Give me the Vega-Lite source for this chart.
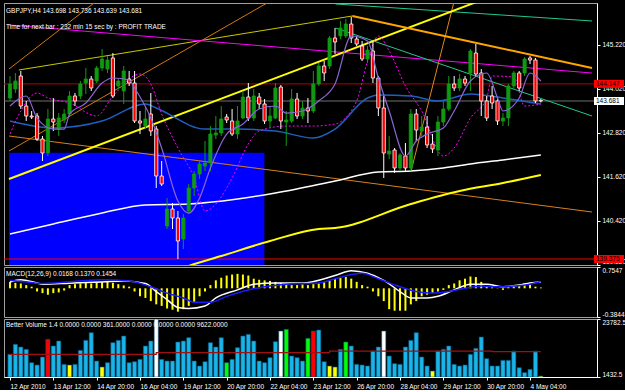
{
"$schema": "https://vega.github.io/schema/vega-lite/v6.json",
"background": "#000000",
"padding": {"left": 3, "top": 2, "right": 0, "bottom": 0},
"spacing": 2,
"bounds": "flush",
"config": {
  "view": {"stroke": "#a0a0a0", "strokeWidth": 1},
  "font": "Liberation Sans",
  "axis": {"labelColor": "#ffffff", "labelFont": "Liberation Sans", "labelFontSize": 6.5, "tickColor": "#ffffff", "domainColor": "#ffffff", "tickSize": 3, "grid": false, "labelPadding": 2}
},
"datasets": {
  "candles": [
    {"i":0,"o":143.762,"h":144.362,"l":143.681,"c":144.144},
    {"i":1,"o":144.008,"h":144.444,"l":143.899,"c":144.226},
    {"i":2,"o":144.362,"h":144.498,"l":143.463,"c":143.544},
    {"i":3,"o":143.544,"h":143.681,"l":143.136,"c":143.272},
    {"i":4,"o":143.272,"h":143.408,"l":143.190,"c":143.245},
    {"i":5,"o":143.272,"h":143.354,"l":142.591,"c":142.645},
    {"i":6,"o":142.645,"h":142.727,"l":142.046,"c":142.264},
    {"i":7,"o":142.264,"h":143.463,"l":142.182,"c":143.190},
    {"i":8,"o":143.190,"h":143.762,"l":142.863,"c":143.108},
    {"i":9,"o":142.918,"h":143.354,"l":142.727,"c":143.217},
    {"i":10,"o":143.163,"h":143.463,"l":143.081,"c":143.326},
    {"i":11,"o":143.326,"h":143.953,"l":143.272,"c":143.817},
    {"i":12,"o":143.817,"h":143.899,"l":143.544,"c":143.681},
    {"i":13,"o":143.817,"h":144.226,"l":143.735,"c":144.144},
    {"i":14,"o":144.171,"h":144.580,"l":143.871,"c":144.280},
    {"i":15,"o":144.280,"h":144.362,"l":143.953,"c":144.035},
    {"i":16,"o":144.226,"h":144.634,"l":144.171,"c":144.580},
    {"i":17,"o":144.580,"h":145.097,"l":144.498,"c":144.825},
    {"i":18,"o":144.553,"h":144.907,"l":144.444,"c":144.798},
    {"i":19,"o":144.852,"h":144.988,"l":143.762,"c":143.817},
    {"i":20,"o":144.089,"h":144.280,"l":144.008,"c":144.226},
    {"i":21,"o":143.953,"h":144.634,"l":143.599,"c":144.498},
    {"i":22,"o":144.280,"h":144.498,"l":144.089,"c":144.171},
    {"i":23,"o":144.171,"h":144.498,"l":143.081,"c":143.136},
    {"i":24,"o":143.136,"h":143.408,"l":142.781,"c":143.081},
    {"i":25,"o":142.999,"h":143.544,"l":142.918,"c":143.190},
    {"i":26,"o":143.326,"h":143.899,"l":142.727,"c":142.863},
    {"i":27,"o":142.918,"h":142.999,"l":141.310,"c":141.637},
    {"i":28,"o":141.637,"h":142.046,"l":141.365,"c":141.419},
    {"i":29,"o":140.275,"h":141.038,"l":140.193,"c":140.738},
    {"i":30,"o":140.738,"h":140.901,"l":140.193,"c":140.493},
    {"i":31,"o":140.493,"h":140.683,"l":139.375,"c":139.866},
    {"i":32,"o":139.920,"h":140.602,"l":139.648,"c":140.493},
    {"i":33,"o":140.683,"h":141.419,"l":140.602,"c":141.310},
    {"i":34,"o":141.310,"h":141.773,"l":141.092,"c":141.692},
    {"i":35,"o":141.692,"h":142.046,"l":141.555,"c":141.964},
    {"i":36,"o":141.910,"h":142.591,"l":141.773,"c":141.991},
    {"i":37,"o":141.991,"h":142.999,"l":141.773,"c":142.781},
    {"i":38,"o":142.754,"h":143.272,"l":142.645,"c":142.809},
    {"i":39,"o":142.809,"h":143.544,"l":142.727,"c":143.190},
    {"i":40,"o":143.245,"h":143.326,"l":143.081,"c":143.163},
    {"i":41,"o":143.136,"h":143.463,"l":142.727,"c":142.781},
    {"i":42,"o":142.781,"h":143.544,"l":142.645,"c":143.136},
    {"i":43,"o":143.217,"h":143.953,"l":143.190,"c":143.790},
    {"i":44,"o":143.790,"h":144.171,"l":143.136,"c":143.217},
    {"i":45,"o":143.217,"h":144.008,"l":143.136,"c":143.817},
    {"i":46,"o":143.790,"h":143.899,"l":143.463,"c":143.599},
    {"i":47,"o":143.599,"h":143.735,"l":143.054,"c":143.136},
    {"i":48,"o":143.136,"h":143.544,"l":142.945,"c":143.272},
    {"i":49,"o":143.217,"h":144.171,"l":143.190,"c":144.035},
    {"i":50,"o":144.062,"h":144.117,"l":142.918,"c":143.136},
    {"i":51,"o":143.108,"h":143.408,"l":142.455,"c":143.163},
    {"i":52,"o":143.136,"h":144.008,"l":143.081,"c":143.735},
    {"i":53,"o":143.735,"h":143.899,"l":143.190,"c":143.272},
    {"i":54,"o":143.272,"h":143.681,"l":143.190,"c":143.490},
    {"i":55,"o":143.490,"h":143.762,"l":143.081,"c":143.408},
    {"i":56,"o":143.408,"h":144.498,"l":143.354,"c":144.144},
    {"i":57,"o":144.144,"h":144.716,"l":144.089,"c":144.634},
    {"i":58,"o":144.634,"h":144.771,"l":144.226,"c":144.444},
    {"i":59,"o":144.634,"h":145.452,"l":144.553,"c":145.397},
    {"i":60,"o":145.397,"h":145.670,"l":144.961,"c":145.288},
    {"i":61,"o":145.452,"h":145.861,"l":145.370,"c":145.670},
    {"i":62,"o":145.452,"h":145.915,"l":145.397,"c":145.779},
    {"i":63,"o":145.779,"h":145.970,"l":145.261,"c":145.397},
    {"i":64,"o":145.370,"h":145.452,"l":145.179,"c":145.234},
    {"i":65,"o":145.179,"h":145.316,"l":144.771,"c":144.825},
    {"i":66,"o":144.825,"h":145.179,"l":144.716,"c":145.070},
    {"i":67,"o":145.043,"h":145.316,"l":144.171,"c":144.307},
    {"i":68,"o":144.307,"h":144.362,"l":143.272,"c":143.490},
    {"i":69,"o":143.490,"h":143.817,"l":141.583,"c":142.264},
    {"i":70,"o":142.237,"h":142.727,"l":142.100,"c":142.318},
    {"i":71,"o":142.345,"h":142.400,"l":141.719,"c":141.855},
    {"i":72,"o":141.855,"h":142.264,"l":141.773,"c":142.209},
    {"i":73,"o":142.182,"h":142.536,"l":141.773,"c":141.855},
    {"i":74,"o":141.855,"h":143.463,"l":141.773,"c":143.326},
    {"i":75,"o":143.326,"h":143.463,"l":142.591,"c":142.890},
    {"i":76,"o":142.863,"h":143.272,"l":142.727,"c":142.972},
    {"i":77,"o":142.972,"h":143.272,"l":142.400,"c":142.482},
    {"i":78,"o":142.509,"h":142.781,"l":142.264,"c":142.373},
    {"i":79,"o":142.345,"h":143.272,"l":142.182,"c":143.108},
    {"i":80,"o":143.108,"h":143.681,"l":142.999,"c":143.463},
    {"i":81,"o":143.463,"h":144.362,"l":143.408,"c":144.144},
    {"i":82,"o":144.144,"h":144.362,"l":143.953,"c":144.035},
    {"i":83,"o":144.035,"h":144.416,"l":143.953,"c":144.280},
    {"i":84,"o":144.280,"h":144.362,"l":144.089,"c":144.171},
    {"i":85,"o":144.444,"h":145.097,"l":143.953,"c":145.043},
    {"i":86,"o":144.988,"h":145.234,"l":144.335,"c":144.416},
    {"i":87,"o":144.444,"h":144.553,"l":143.272,"c":143.681},
    {"i":88,"o":143.681,"h":143.817,"l":143.136,"c":143.217},
    {"i":89,"o":143.817,"h":144.089,"l":143.463,"c":143.626},
    {"i":90,"o":143.681,"h":143.762,"l":143.027,"c":143.136},
    {"i":91,"o":143.136,"h":143.354,"l":142.999,"c":143.217},
    {"i":92,"o":143.217,"h":144.144,"l":142.999,"c":144.089},
    {"i":93,"o":144.089,"h":144.498,"l":144.008,"c":144.444},
    {"i":94,"o":144.444,"h":144.498,"l":143.953,"c":144.035},
    {"i":95,"o":144.444,"h":144.879,"l":144.362,"c":144.825},
    {"i":96,"o":144.852,"h":144.907,"l":144.689,"c":144.798},
    {"i":97,"o":144.798,"h":144.852,"l":143.626,"c":143.681},
    {"i":98,"o":143.698,"h":143.736,"l":143.639,"c":143.681}
  ],
  "ma": [
    {"name":"fast","i":0,"p":143.544},{"name":"fast","i":3,"p":143.817},{"name":"fast","i":5,"p":143.217},{"name":"fast","i":8,"p":142.917},{"name":"fast","i":10,"p":142.917},{"name":"fast","i":11,"p":143.326},{"name":"fast","i":14,"p":143.626},{"name":"fast","i":17,"p":144.171},{"name":"fast","i":19,"p":144.307},{"name":"fast","i":22,"p":144.253},{"name":"fast","i":23,"p":144.035},{"name":"fast","i":26,"p":143.217},{"name":"fast","i":28,"p":142.400},{"name":"fast","i":31,"p":140.956},{"name":"fast","i":33,"p":140.628},{"name":"fast","i":35,"p":141.037},{"name":"fast","i":37,"p":141.855},{"name":"fast","i":40,"p":142.781},{"name":"fast","i":43,"p":143.054},{"name":"fast","i":46,"p":143.462},{"name":"fast","i":49,"p":143.544},{"name":"fast","i":51,"p":143.353},{"name":"fast","i":54,"p":143.408},{"name":"fast","i":57,"p":143.681},{"name":"fast","i":60,"p":144.144},{"name":"fast","i":63,"p":145.452},{"name":"fast","i":66,"p":145.316},{"name":"fast","i":68,"p":144.307},{"name":"fast","i":70,"p":143.408},{"name":"fast","i":73,"p":142.182},{"name":"fast","i":75,"p":142.591},{"name":"fast","i":77,"p":142.781},{"name":"fast","i":80,"p":142.945},{"name":"fast","i":82,"p":143.408},{"name":"fast","i":85,"p":144.226},{"name":"fast","i":88,"p":144.443},{"name":"fast","i":90,"p":143.762},{"name":"fast","i":91,"p":143.408},{"name":"fast","i":94,"p":143.762},{"name":"fast","i":96,"p":144.443},{"name":"fast","i":98,"p":144.226},
    {"name":"mid","i":0,"p":143.136},{"name":"mid","i":8,"p":142.945},{"name":"mid","i":17,"p":143.136},{"name":"mid","i":25,"p":143.598},{"name":"mid","i":27,"p":143.490},{"name":"mid","i":36,"p":142.917},{"name":"mid","i":42,"p":142.917},{"name":"mid","i":49,"p":142.863},{"name":"mid","i":56,"p":142.672},{"name":"mid","i":60,"p":142.917},{"name":"mid","i":66,"p":143.762},{"name":"mid","i":68,"p":143.844},{"name":"mid","i":74,"p":143.817},{"name":"mid","i":79,"p":143.681},{"name":"mid","i":85,"p":143.871},{"name":"mid","i":91,"p":143.762},{"name":"mid","i":98,"p":143.598},
    {"name":"white","i":0,"p":140.056},{"name":"white","i":8,"p":140.329},{"name":"white","i":17,"p":140.629},{"name":"white","i":25,"p":140.847},{"name":"white","i":33,"p":140.874},{"name":"white","i":42,"p":141.010},{"name":"white","i":49,"p":141.174},{"name":"white","i":60,"p":141.501},{"name":"white","i":68,"p":141.746},{"name":"white","i":74,"p":141.773},{"name":"white","i":80,"p":141.855},{"name":"white","i":85,"p":141.964},{"name":"white","i":91,"p":142.073},{"name":"white","i":98,"p":142.209},
    {"name":"yellow","i":32,"p":139.130},{"name":"yellow","i":33,"p":139.185},{"name":"yellow","i":39,"p":139.457},{"name":"yellow","i":48,"p":139.866},{"name":"yellow","i":57,"p":140.193},{"name":"yellow","i":60,"p":140.220},{"name":"yellow","i":74,"p":140.874},{"name":"yellow","i":83,"p":141.228},{"name":"yellow","i":91,"p":141.446},{"name":"yellow","i":98,"p":141.664},
    {"name":"dot","i":0,"p":142.781},{"name":"dot","i":2,"p":143.408},{"name":"dot","i":5,"p":143.898},{"name":"dot","i":7,"p":143.762},{"name":"dot","i":11,"p":143.626},{"name":"dot","i":16,"p":143.272},{"name":"dot","i":19,"p":143.817},{"name":"dot","i":24,"p":144.416},{"name":"dot","i":26,"p":144.144},{"name":"dot","i":28,"p":143.326},{"name":"dot","i":31,"p":142.400},{"name":"dot","i":34,"p":141.582},{"name":"dot","i":36,"p":140.683},{"name":"dot","i":38,"p":140.874},{"name":"dot","i":41,"p":141.582},{"name":"dot","i":44,"p":142.509},{"name":"dot","i":46,"p":142.863},{"name":"dot","i":51,"p":142.999},{"name":"dot","i":56,"p":142.999},{"name":"dot","i":60,"p":143.054},{"name":"dot","i":64,"p":143.681},{"name":"dot","i":66,"p":144.770},{"name":"dot","i":68,"p":145.452},{"name":"dot","i":70,"p":145.043},{"name":"dot","i":73,"p":144.089},{"name":"dot","i":76,"p":143.408},{"name":"dot","i":80,"p":142.182},{"name":"dot","i":82,"p":142.400},{"name":"dot","i":85,"p":143.217},{"name":"dot","i":88,"p":143.762},{"name":"dot","i":89,"p":144.362},{"name":"dot","i":93,"p":144.334},{"name":"dot","i":95,"p":143.544},{"name":"dot","i":98,"p":143.598}
  ],
  "trend": [
    {"name":"yel2","i":1.63,"p":144.525},{"name":"yel2","i":63.2,"p":145.997},
    {"name":"orA","i":-0.18,"p":144.553},{"name":"orA","i":16.0,"p":146.406},
    {"name":"orB","i":-0.18,"p":142.318},{"name":"orB","i":48.1,"p":146.406},
    {"name":"orS","i":74.05,"p":141.773},{"name":"orS","i":82.0,"p":146.406},
    {"name":"orL","i":-0.18,"p":142.727},{"name":"orL","i":107.44,"p":140.656},
    {"name":"mag","i":-0.18,"p":145.752},{"name":"mag","i":107.44,"p":144.443},
    {"name":"grT","i":60.1,"p":146.324},{"name":"grT","i":107.44,"p":145.861},
    {"name":"grL","i":60.1,"p":145.670},{"name":"grL","i":107.44,"p":143.272},
    {"name":"yel1","i":-0.18,"p":141.555},{"name":"yel1","i":86.6,"p":146.406},
    {"name":"orT","i":63.2,"p":145.997},{"name":"orT","i":107.44,"p":144.580}
  ],
  "hl": [{"name":"hi","p":144.147},{"name":"lo","p":139.375},{"name":"bid","p":143.681}],
  "box": [{"i1":-0.18,"i2":46.96,"p1":142.272,"p2":139.212}],
  "plab": [{"p":144.147,"k":"r"},{"p":143.681,"k":"w"},{"p":139.375,"k":"r"}],
  "macd": [
    {"i":0,"v":0.137},{"i":1,"v":0.118},{"i":2,"v":0.104},{"i":3,"v":0.069},{"i":4,"v":0.035},{"i":5,"v":-0.069},{"i":6,"v":-0.104},{"i":7,"v":-0.139},{"i":8,"v":-0.104},{"i":9,"v":-0.089},
    {"i":10,"v":-0.048},{"i":11,"v":0.069},{"i":12,"v":0.089},{"i":13,"v":0.104},{"i":14,"v":0.118},{"i":15,"v":0.104},{"i":16,"v":0.118},{"i":17,"v":0.131},{"i":18,"v":0.137},{"i":19,"v":0.118},
    {"i":20,"v":0.089},{"i":21,"v":0.062},{"i":22,"v":0.035},{"i":23,"v":-0.069},{"i":24,"v":-0.172},{"i":25,"v":-0.208},{"i":26,"v":-0.276},{"i":27,"v":-0.347},{"i":28,"v":-0.380},{"i":29,"v":-0.436},
    {"i":30,"v":-0.463},{"i":31,"v":-0.505},{"i":32,"v":-0.451},{"i":33,"v":-0.380},{"i":34,"v":-0.297},{"i":35,"v":-0.172},{"i":36,"v":-0.069},{"i":37,"v":0.069},{"i":38,"v":0.172},{"i":39,"v":0.228},
    {"i":40,"v":0.276},{"i":41,"v":0.297},{"i":42,"v":0.312},{"i":43,"v":0.297},{"i":44,"v":0.276},{"i":45,"v":0.208},{"i":46,"v":0.187},{"i":47,"v":0.172},{"i":48,"v":0.160},{"i":49,"v":0.139},
    {"i":50,"v":0.118},{"i":51,"v":0.089},{"i":52,"v":0.069},{"i":53,"v":0.069},{"i":54,"v":0.083},{"i":55,"v":0.069},{"i":56,"v":0.089},{"i":57,"v":0.104},{"i":58,"v":0.139},{"i":59,"v":0.172},
    {"i":60,"v":0.208},{"i":61,"v":0.228},{"i":62,"v":0.243},{"i":63,"v":0.208},{"i":64,"v":0.139},{"i":65,"v":0.069},{"i":66,"v":0.035},{"i":67,"v":-0.069},{"i":68,"v":-0.172},{"i":69,"v":-0.276},
    {"i":70,"v":-0.451},{"i":71,"v":-0.484},{"i":72,"v":-0.484},{"i":73,"v":-0.484},{"i":74,"v":-0.347},{"i":75,"v":-0.276},{"i":76,"v":-0.172},{"i":77,"v":-0.139},{"i":78,"v":-0.104},{"i":79,"v":-0.069},
    {"i":80,"v":-0.035},{"i":81,"v":0.069},{"i":82,"v":0.104},{"i":83,"v":0.172},{"i":84,"v":0.208},{"i":85,"v":0.255},{"i":86,"v":0.243},{"i":87,"v":0.139},{"i":88,"v":0.048},{"i":89,"v":0.021},
    {"i":90,"v":0.006},{"i":91,"v":-0.035},{"i":92,"v":0.021},{"i":93,"v":0.035},{"i":94,"v":0.069},{"i":95,"v":0.104},{"i":96,"v":0.089},{"i":97,"v":0.035},{"i":98,"v":0.0168}
  ],
  "macdl": [
    {"name":"main","i":0,"v":0.137},{"name":"main","i":2,"v":0.187},{"name":"main","i":5,"v":0.116},{"name":"main","i":6,"v":0.089},{"name":"main","i":11,"v":0.110},{"name":"main","i":17,"v":0.137},{"name":"main","i":21,"v":0.158},{"name":"main","i":25,"v":0.104},{"name":"main","i":27,"v":-0.071},{"name":"main","i":29,"v":-0.243},{"name":"main","i":31,"v":-0.415},{"name":"main","i":33,"v":-0.436},{"name":"main","i":36,"v":-0.382},{"name":"main","i":38,"v":-0.208},{"name":"main","i":42,"v":-0.035},{"name":"main","i":45,"v":0.089},{"name":"main","i":49,"v":0.116},{"name":"main","i":54,"v":0.116},{"name":"main","i":60,"v":0.276},{"name":"main","i":63,"v":0.380},{"name":"main","i":66,"v":0.324},{"name":"main","i":69,"v":0.172},{"name":"main","i":72,"v":-0.071},{"name":"main","i":74,"v":-0.208},{"name":"main","i":77,"v":-0.208},{"name":"main","i":79,"v":-0.174},{"name":"main","i":82,"v":-0.035},{"name":"main","i":85,"v":0.089},{"name":"main","i":88,"v":0.089},{"name":"main","i":91,"v":0.033},{"name":"main","i":94,"v":0.069},{"name":"main","i":96,"v":0.116},{"name":"main","i":98,"v":0.137},
    {"name":"signal","i":0,"v":0.172},{"name":"signal","i":3,"v":0.137},{"name":"signal","i":6,"v":0.104},{"name":"signal","i":17,"v":0.187},{"name":"signal","i":22,"v":0.158},{"name":"signal","i":26,"v":0.033},{"name":"signal","i":29,"v":-0.104},{"name":"signal","i":32,"v":-0.208},{"name":"signal","i":34,"v":-0.299},{"name":"signal","i":37,"v":-0.299},{"name":"signal","i":40,"v":-0.174},{"name":"signal","i":44,"v":-0.035},{"name":"signal","i":48,"v":0.048},{"name":"signal","i":51,"v":0.089},{"name":"signal","i":57,"v":0.116},{"name":"signal","i":60,"v":0.208},{"name":"signal","i":65,"v":0.324},{"name":"signal","i":68,"v":0.208},{"name":"signal","i":72,"v":0.033},{"name":"signal","i":75,"v":-0.071},{"name":"signal","i":78,"v":-0.104},{"name":"signal","i":81,"v":-0.071},{"name":"signal","i":84,"v":0.0},{"name":"signal","i":87,"v":0.048},{"name":"signal","i":90,"v":0.033},{"name":"signal","i":93,"v":0.048},{"name":"signal","i":96,"v":0.089},{"name":"signal","i":98,"v":0.1454}
  ],
  "vol": [
    {"i":0,"v":10165,"k":"b"},{"i":1,"v":14020,"k":"b"},{"i":2,"v":12995,"k":"b"},{"i":3,"v":12090,"k":"b"},{"i":4,"v":6960,"k":"b"},{"i":5,"v":6057,"k":"b"},{"i":6,"v":9140,"k":"b"},{"i":7,"v":15946,"k":"r"},{"i":8,"v":13380,"k":"b"},{"i":9,"v":15307,"k":"b"},
    {"i":10,"v":6311,"k":"b"},{"i":11,"v":6057,"k":"y"},{"i":12,"v":6311,"k":"b"},{"i":13,"v":11706,"k":"b"},{"i":14,"v":15560,"k":"b"},{"i":15,"v":18522,"k":"b"},{"i":16,"v":7599,"k":"b"},{"i":17,"v":5287,"k":"y"},{"i":18,"v":6960,"k":"b"},{"i":19,"v":14668,"k":"b"},
    {"i":20,"v":15560,"k":"b"},{"i":21,"v":17234,"k":"b"},{"i":22,"v":6960,"k":"b"},{"i":23,"v":7345,"k":"b"},{"i":24,"v":8238,"k":"b"},{"i":25,"v":13380,"k":"b"},{"i":26,"v":15307,"k":"b"},{"i":27,"v":23782.5,"k":"w"},{"i":28,"v":8238,"k":"b"},{"i":29,"v":7599,"k":"b"},
    {"i":30,"v":7599,"k":"b"},{"i":31,"v":14921,"k":"b"},{"i":32,"v":15307,"k":"b"},{"i":33,"v":16595,"k":"b"},{"i":34,"v":7599,"k":"b"},{"i":35,"v":5672,"k":"b"},{"i":36,"v":7345,"k":"b"},{"i":37,"v":14668,"k":"b"},{"i":38,"v":12995,"k":"b"},{"i":39,"v":16595,"k":"b"},
    {"i":40,"v":6960,"k":"g"},{"i":41,"v":8238,"k":"b"},{"i":42,"v":12741,"k":"b"},{"i":43,"v":17234,"k":"b"},{"i":44,"v":17873,"k":"b"},{"i":45,"v":15307,"k":"b"},{"i":46,"v":7599,"k":"b"},{"i":47,"v":6960,"k":"b"},{"i":48,"v":8887,"k":"b"},{"i":49,"v":15050,"k":"b"},
    {"i":50,"v":19161,"k":"w"},{"i":51,"v":19800,"k":"g"},{"i":52,"v":9526,"k":"b"},{"i":53,"v":8887,"k":"b"},{"i":54,"v":7599,"k":"b"},{"i":55,"v":16332,"k":"g"},{"i":56,"v":19161,"k":"r"},{"i":57,"v":19546,"k":"b"},{"i":58,"v":7345,"k":"b"},{"i":59,"v":5672,"k":"y"},
    {"i":60,"v":5287,"k":"y"},{"i":61,"v":12090,"k":"b"},{"i":62,"v":14921,"k":"g"},{"i":63,"v":13380,"k":"b"},{"i":64,"v":6311,"k":"b"},{"i":65,"v":6057,"k":"b"},{"i":66,"v":5672,"k":"b"},{"i":67,"v":11453,"k":"b"},{"i":68,"v":12995,"k":"b"},{"i":69,"v":19161,"k":"w"},
    {"i":70,"v":9526,"k":"b"},{"i":71,"v":6575,"k":"b"},{"i":72,"v":6311,"k":"b"},{"i":73,"v":12995,"k":"b"},{"i":74,"v":15560,"k":"b"},{"i":75,"v":18522,"k":"b"},{"i":76,"v":9140,"k":"b"},{"i":77,"v":5672,"k":"b"},{"i":78,"v":3745,"k":"y"},{"i":79,"v":11453,"k":"b"},
    {"i":80,"v":12090,"k":"b"},{"i":81,"v":13380,"k":"b"},{"i":82,"v":6311,"k":"b"},{"i":83,"v":5672,"k":"b"},{"i":84,"v":6057,"k":"b"},{"i":85,"v":10165,"k":"b"},{"i":86,"v":12477,"k":"b"},{"i":87,"v":16849,"k":"b"},{"i":88,"v":8502,"k":"b"},{"i":89,"v":5672,"k":"b"},
    {"i":90,"v":5672,"k":"b"},{"i":91,"v":7853,"k":"b"},{"i":92,"v":7853,"k":"b"},{"i":93,"v":11453,"k":"b"},{"i":94,"v":5033,"k":"b"},{"i":95,"v":3124,"k":"b"},{"i":96,"v":4384,"k":"b"},{"i":97,"v":11453,"k":"b"},{"i":98,"v":1800,"k":"y"}
  ],
  "vavg": [
    {"i":0,"v":10180},{"i":27,"v":10800},{"i":59,"v":11400},{"i":89,"v":11180},{"i":98,"v":11180}
  ]
},
"vconcat": [
  {
    "width": 593, "height": 262,
    "title": {"text": "GBPJPY,H4 143.698 143.736 143.639 143.681", "subtitle": "Time for next bar : 232 min 15 sec by : PROFIT TRADE", "anchor": "start", "frame": "group", "orient": "top", "offset": -27, "dx": 2, "font": "Liberation Sans", "fontSize": 6.5, "fontWeight": "normal", "color": "#ffffff", "subtitleFont": "Liberation Sans", "subtitleFontSize": 6.5, "subtitleColor": "#ffffff", "subtitlePadding": 9},
    "resolve": {"scale": {"color": "independent", "stroke": "independent"}},
    "layer": [
      {
        "data": {"name": "box"},
        "mark": {"type": "rect", "clip": true, "color": "#0000ff"},
        "encoding": {
          "x": {"field": "i1", "type": "quantitative", "scale": {"domain": [-0.18, 107.44], "nice": false, "zero": false}, "axis": null},
          "x2": {"field": "i2"},
          "y": {"field": "p1", "type": "quantitative", "scale": {"domain": [139.212, 146.351], "nice": false, "zero": false},
                "axis": {"orient": "right", "title": null, "values": [139.22, 139.82, 140.42, 141.02, 141.62, 142.22, 142.82, 143.42, 144.02, 144.62, 145.22, 145.835], "format": ".3f", "labelOverlap": false, "labelFlush": 2}},
          "y2": {"field": "p2"}
        }
      },
      {
        "data": {"name": "hl"},
        "mark": {"type": "rule", "strokeWidth": 1},
        "encoding": {
          "y": {"field": "p", "type": "quantitative"},
          "color": {"field": "name", "type": "nominal", "scale": {"domain": ["hi", "lo", "bid"], "range": ["#b40000", "#ff0000", "#707070"]}, "legend": null}
        }
      },
      {
        "data": {"name": "trend"},
        "transform": [{"filter": "datum.name != 'yel1' && datum.name != 'orT'"}],
        "mark": {"type": "line", "clip": true, "strokeWidth": 1},
        "encoding": {
          "x": {"field": "i", "type": "quantitative"},
          "y": {"field": "p", "type": "quantitative"},
          "detail": {"field": "name"},
          "color": {"field": "name", "type": "nominal", "scale": {"domain": ["yel2", "orA", "orB", "orS", "orL", "mag", "grT", "grL"], "range": ["#c8c800", "#d4780f", "#d4780f", "#e08a1a", "#d8801a", "#ff00ff", "#20c890", "#20c890"]}, "legend": null}
        }
      },
      {
        "data": {"name": "trend"},
        "transform": [{"filter": "datum.name == 'yel1' || datum.name == 'orT'"}],
        "mark": {"type": "line", "clip": true, "strokeWidth": 2},
        "encoding": {
          "x": {"field": "i", "type": "quantitative"},
          "y": {"field": "p", "type": "quantitative"},
          "detail": {"field": "name"},
          "color": {"field": "name", "type": "nominal", "scale": {"domain": ["yel1", "orT"], "range": ["#ffff00", "#ffa500"]}, "legend": null}
        }
      },
      {
        "data": {"name": "ma"},
        "transform": [{"filter": "datum.name == 'mid' || datum.name == 'white'"}],
        "mark": {"type": "line", "clip": true, "strokeWidth": 1.5, "interpolate": "monotone"},
        "encoding": {
          "x": {"field": "i", "type": "quantitative"},
          "y": {"field": "p", "type": "quantitative"},
          "color": {"field": "name", "type": "nominal", "scale": {"domain": ["mid", "white"], "range": ["#1e5fc0", "#ffffff"]}, "legend": null}
        }
      },
      {
        "data": {"name": "ma"},
        "transform": [{"filter": "datum.name == 'yellow'"}],
        "mark": {"type": "line", "clip": true, "strokeWidth": 2, "color": "#ffff00", "interpolate": "monotone"},
        "encoding": {
          "x": {"field": "i", "type": "quantitative"},
          "y": {"field": "p", "type": "quantitative"}
        }
      },
      {
        "data": {"name": "ma"},
        "transform": [{"filter": "datum.name == 'dot'"}],
        "mark": {"type": "line", "clip": true, "strokeWidth": 1, "color": "#ff00ff", "strokeDash": [2, 2], "interpolate": "monotone"},
        "encoding": {
          "x": {"field": "i", "type": "quantitative"},
          "y": {"field": "p", "type": "quantitative"}
        }
      },
      {
        "data": {"name": "candles"},
        "mark": {"type": "rule", "strokeWidth": 1},
        "encoding": {
          "x": {"field": "i", "type": "quantitative"},
          "y": {"field": "l", "type": "quantitative"},
          "y2": {"field": "h"},
          "color": {"condition": {"test": "datum.c < datum.o", "value": "#ffffff"}, "value": "#109a10"}
        }
      },
      {
        "data": {"name": "candles"},
        "mark": {"type": "bar", "size": 3.2, "strokeWidth": 0.8},
        "encoding": {
          "x": {"field": "i", "type": "quantitative"},
          "y": {"field": "o", "type": "quantitative"},
          "y2": {"field": "c"},
          "fill": {"condition": {"test": "datum.c < datum.o", "value": "#ff0000"}, "value": "#109a10"},
          "stroke": {"condition": {"test": "datum.c < datum.o", "value": "#ffffff"}, "value": "#109a10"}
        }
      },
      {
        "data": {"name": "ma"},
        "transform": [{"filter": "datum.name == 'fast'"}],
        "mark": {"type": "line", "clip": true, "strokeWidth": 1.2, "color": "#8a66d8", "interpolate": "monotone"},
        "encoding": {
          "x": {"field": "i", "type": "quantitative"},
          "y": {"field": "p", "type": "quantitative"}
        }
      },
      {
        "data": {"name": "plab"},
        "mark": {"type": "rect", "clip": false, "xOffset": 2, "x2Offset": 32, "yOffset": -4, "y2Offset": 4},
        "encoding": {
          "x": {"datum": 107.44},
          "x2": {"datum": 107.44},
          "y": {"field": "p", "type": "quantitative"},
          "y2": {"field": "p"},
          "fill": {"condition": {"test": "datum.k == 'w'", "value": "#ffffff"}, "value": "#ff0000"}
        }
      },
      {
        "data": {"name": "plab"},
        "mark": {"type": "text", "align": "left", "baseline": "middle", "dx": 4, "fontSize": 6.5, "font": "Liberation Sans", "color": "#000000"},
        "encoding": {
          "x": {"datum": 107.44},
          "y": {"field": "p", "type": "quantitative"},
          "text": {"field": "p", "type": "quantitative", "format": ".3f"}
        }
      }
    ]
  },
  {
    "width": 593, "height": 50,
    "title": {"text": "MACD(12,26,9) 0.0168 0.1370 0.1454", "anchor": "start", "frame": "group", "orient": "top", "offset": -10.5, "dx": 2, "font": "Liberation Sans", "fontSize": 6.5, "fontWeight": "normal", "color": "#ffffff"},
    "layer": [
      {
        "mark": {"type": "rule", "color": "#3030ff", "strokeDash": [2, 3], "strokeWidth": 1},
        "encoding": {"y": {"datum": 0}}
      },
      {
        "data": {"name": "macd"},
        "mark": {"type": "bar", "size": 2, "color": "#ffff00"},
        "encoding": {
          "x": {"field": "i", "type": "quantitative", "scale": {"domain": [-0.18, 107.44], "nice": false, "zero": false}, "axis": null},
          "y": {"field": "v", "type": "quantitative", "scale": {"domain": [-0.62, 0.46], "nice": false, "zero": false},
                "axis": {"orient": "right", "title": null, "values": [-0.62, 0, 0.46], "labelFlush": true, "labelExpr": "datum.value > 0.1 ? '0.7547' : (datum.value < -0.1 ? '-0.3844' : '0.00')"}}
        }
      },
      {
        "data": {"name": "macdl"},
        "mark": {"type": "line", "strokeWidth": 1.5, "interpolate": "monotone"},
        "encoding": {
          "x": {"field": "i", "type": "quantitative"},
          "y": {"field": "v", "type": "quantitative"},
          "color": {"field": "name", "type": "nominal", "scale": {"domain": ["signal", "main"], "range": ["#1a1aff", "#ffffff"]}, "legend": null}
        }
      }
    ]
  },
  {
    "width": 593, "height": 58,
    "title": {"text": "Better Volume 1.4 0.0000 0.0000 361.0000 0.0000 0.0000 0.0000 9622.0000", "anchor": "start", "frame": "group", "orient": "top", "offset": -9.5, "dx": 2, "font": "Liberation Sans", "fontSize": 6.5, "fontWeight": "normal", "color": "#ffffff"},
    "layer": [
      {
        "data": {"name": "vol"},
        "mark": {"type": "bar", "size": 4.2, "strokeWidth": 0.6, "stroke": "#0b4f72", "clip": true},
        "encoding": {
          "x": {"field": "i", "type": "quantitative", "scale": {"domain": [-0.18, 107.44], "nice": false, "zero": false},
                "axis": {"title": null, "values": [0, 8, 16, 24, 32, 40, 48, 56, 64, 72, 80, 88, 96], "labelAlign": "left", "labelOverlap": false, "labelFlush": false, "labelPadding": 3,
                         "labelExpr": "['12 Apr 2010','13 Apr 12:00','14 Apr 20:00','16 Apr 04:00','19 Apr 12:00','20 Apr 20:00','22 Apr 04:00','23 Apr 12:00','26 Apr 20:00','28 Apr 04:00','29 Apr 12:00','30 Apr 20:00','4 May 04:00'][round(datum.value/8)]"}},
          "y": {"field": "v", "type": "quantitative", "scale": {"domain": [1432.5, 23782.5], "nice": false, "zero": false},
                "axis": {"orient": "right", "title": null, "values": [1432.5, 23782.5], "format": ".1f", "labelFlush": true}},
          "y2": {"datum": 1432.5},
          "fill": {"field": "k", "type": "nominal", "scale": {"domain": ["b", "r", "y", "w", "g"], "range": ["#19b4e8", "#ff0000", "#ffff00", "#ffffff", "#00ff00"]}, "legend": null}
        }
      },
      {
        "data": {"name": "vavg"},
        "mark": {"type": "line", "color": "#a01010", "strokeWidth": 1.2, "interpolate": "step-after"},
        "encoding": {
          "x": {"field": "i", "type": "quantitative"},
          "y": {"field": "v", "type": "quantitative"}
        }
      }
    ]
  }
]
}
